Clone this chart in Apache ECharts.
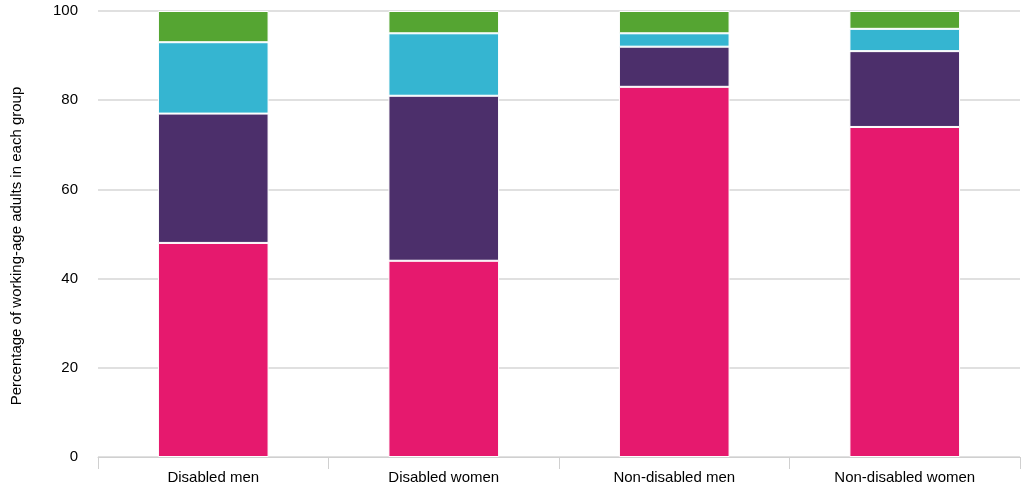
<!DOCTYPE html>
<html><head><meta charset="utf-8">
<script src="https://cdn.jsdelivr.net/npm/echarts@6/dist/echarts.min.js"></script>
<style>html,body{margin:0;padding:0;background:#fff}#c{width:1024px;height:488px}</style>
</head><body><div id="c"></div>
<script>
const categories = ["Disabled men", "Disabled women", "Non-disabled men", "Non-disabled women"];
const seriesA = [48, 44, 83, 74];
const seriesB = [29, 37, 9, 17];
const seriesC = [16, 14, 3, 5];
const seriesD = [7, 5, 5, 4];
const yTicks = [0, 20, 40, 60, 80, 100];
const colors = ["#e6196e", "#4c2f6b", "#35b5d1", "#55a532"];

const chart = echarts.init(document.getElementById('c'));
const mk = (name, data, i) => ({
  name, type: 'bar', stack: 'total', data, barWidth: '48%',
  itemStyle: { color: colors[i], borderColor: '#ffffff', borderWidth: 1 }
});
chart.setOption({
  animation: false,
  grid: { left: 98, right: 4, top: 11, bottom: 31 },
  xAxis: {
    type: 'category', data: categories,
    axisLine: { lineStyle: { color: '#d0d0d0', width: 1 } },
    axisTick: { show: true, length: 12, lineStyle: { color: '#d0d0d0' } },
    axisLabel: { color: '#000', fontFamily: 'Liberation Sans, Arial', fontSize: 15, margin: 13 }
  },
  yAxis: {
    type: 'value', min: yTicks[0], max: yTicks[yTicks.length - 1], interval: 20,
    name: 'Percentage of working-age adults in each group',
    nameLocation: 'middle', nameGap: 74,
    nameTextStyle: { color: '#000', fontFamily: 'Liberation Sans, Arial', fontSize: 15, padding: [0, 24, 0, 0] },
    axisLine: { show: false }, axisTick: { show: false },
    axisLabel: { color: '#000', fontFamily: 'Liberation Sans, Arial', fontSize: 15, margin: 20 },
    splitLine: { lineStyle: { color: '#e0e0e0', width: 2 } }
  },
  series: [mk('A', seriesA, 0), mk('B', seriesB, 1), mk('C', seriesC, 2), mk('D', seriesD, 3)]
});
</script></body></html>
